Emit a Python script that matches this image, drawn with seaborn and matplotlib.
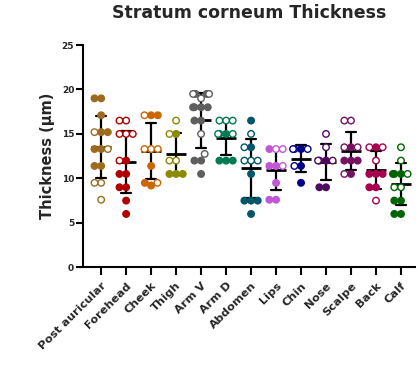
import numpy as np
import pandas as pd
import matplotlib
matplotlib.use("Agg")
import matplotlib.pyplot as plt
import seaborn as sns
import warnings
warnings.filterwarnings("ignore")

sites = ["Post auricular", "Forehead", "Cheek", "Thigh", "Arm V", "Arm D",
         "Abdomen", "Lips", "Chin", "Nose", "Scalpe", "Back", "Calf"]

colors = ["#9C6B1F", "#B00000", "#CC6600", "#8B8B00", "#5E5E5E", "#007A50",
          "#00566B", "#C157D6", "#00008B", "#500A60", "#76125F", "#A8004E", "#006400"]

pa_filled = [19.0, 19.0, 17.1, 15.2, 15.2, 13.3, 13.3, 11.4, 11.4]
pa_open = [15.2, 13.3, 9.5, 9.5, 7.6]
fh_filled = [12.0, 10.5, 10.5, 9.0, 9.0, 7.5, 6.0]
fh_open = [16.5, 16.5, 15.0, 15.0, 15.0, 12.0]
ch_filled = [17.1, 17.1, 11.4, 9.5, 9.2]
ch_open = [17.1, 13.3, 13.3, 13.3, 9.5]
th_filled = [15.0, 10.5, 10.5, 10.5]
th_open = [16.5, 15.0, 12.0, 12.0]
av_filled = [19.5, 19.5, 18.0, 18.0, 18.0, 18.0, 16.5, 16.5, 12.0, 12.0, 10.5]
av_open = [19.5, 19.5, 19.0, 15.0, 12.75]
ad_filled = [15.0, 15.0, 12.0, 12.0, 12.0]
ad_open = [16.5, 16.5, 16.5, 15.0, 15.0]
ab_filled = [16.5, 13.5, 10.5, 7.5, 7.5, 7.5, 6.0]
ab_open = [15.0, 13.5, 12.0, 12.0, 12.0]
li_filled = [13.3, 11.4, 11.4, 9.5, 7.6, 7.6]
li_open = [13.3, 13.3, 11.4]
cn_filled = [13.3, 11.4, 9.5]
cn_open = [13.3, 13.3, 13.3, 11.4]
no_filled = [12.0, 12.0, 9.0, 9.0]
no_open = [15.0, 13.5, 12.0, 12.0]
sc_filled = [13.5, 12.0, 12.0, 12.0, 10.5]
sc_open = [16.5, 16.5, 13.5, 13.5, 10.5]
bk_filled = [13.5, 10.5, 10.5, 10.5, 9.0, 9.0]
bk_open = [13.5, 13.5, 12.0, 7.5]
cf_filled = [10.5, 10.5, 10.5, 7.5, 7.5, 6.0, 6.0]
cf_open = [13.5, 12.0, 10.5, 9.0, 9.0]

filled_sets = [pa_filled, fh_filled, ch_filled, th_filled, av_filled, ad_filled,
               ab_filled, li_filled, cn_filled, no_filled, sc_filled, bk_filled, cf_filled]
open_sets = [pa_open, fh_open, ch_open, th_open, av_open, ad_open,
             ab_open, li_open, cn_open, no_open, sc_open, bk_open, cf_open]

rows = []
for s, f, o in zip(sites, filled_sets, open_sets):
    for v in f:
        rows.append((s, v, True))
    for v in o:
        rows.append((s, v, False))
df = pd.DataFrame(rows, columns=["site", "value", "filled"])
df["site"] = pd.Categorical(df["site"], categories=sites)

sns.set_style("white")
plt.rcParams["font.family"] = ["DejaVu Sans"]
plt.rcParams["font.weight"] = "bold"

fig = plt.figure(figsize=(4.2, 3.68), dpi=100)
ax = fig.add_axes([0.198, 0.2736, 0.790, 0.6041])

palette = dict(zip(sites, colors))
sns.swarmplot(data=df, x="site", y="value", hue="site", order=sites,
              hue_order=sites, palette=palette, size=4.7,
              legend=False, ax=ax)
swarm_colls = [c for c in ax.collections if len(c.get_offsets())]

for coll in swarm_colls:
    off = coll.get_offsets()
    idx = int(round(float(np.mean(off[:, 0]))))
    s = sites[idx]
    c = colors[idx]
    flags = df.loc[df["site"] == s, "filled"].tolist()
    if len(flags) != len(off):
        continue
    fc = [c if fl else "white" for fl in flags]
    coll.set_facecolor(fc)
    coll.set_edgecolor(c)
    coll.set_linewidth(1.0)
    coll.set_zorder(6)

sns.pointplot(data=df, x="site", y="value", order=sites, errorbar="sd",
              color="black", marker="_", markersize=14, markeredgewidth=2.0,
              linestyle="none", capsize=0.4, err_kws={"linewidth": 1.6},
              ax=ax, zorder=5)

ax.set_xlim(-0.72, 12.56)
ax.set_ylim(0, 25)
ax.set_yticks([0, 5, 10, 15, 20, 25])
ax.set_yticklabels(["0", "5", "10", "15", "20", "25"], fontsize=6.5, fontweight="bold")
ax.set_xticks(range(len(sites)))
ax.set_xticklabels(sites, rotation=45, ha="right", rotation_mode="anchor",
                   fontsize=8.2, fontweight="bold")
ax.tick_params(axis="y", length=5, width=1.5, pad=1.5, left=True, color="black")
ax.tick_params(axis="x", length=5.5, width=1.5, pad=4, bottom=True, color="black")
for side in ["top", "right"]:
    ax.spines[side].set_visible(False)
for side in ["left", "bottom"]:
    ax.spines[side].set_linewidth(1.5)
    ax.spines[side].set_color("black")
ax.set_xlabel("")
ax.set_ylabel("Thickness (µm)", fontsize=10.5, fontweight="bold", labelpad=5)

fig.text(0.593, 0.966, "Stratum corneum Thickness", ha="center", va="center",
         fontsize=12.5, fontweight="bold")

# let seaborn lay out the swarms, then pack them a bit tighter (Prism-like)
fig.canvas.draw()
for coll in swarm_colls:
    off = np.asarray(coll.get_offsets()).copy()
    center = np.round(off[:, 0].mean())
    off[:, 0] = center + (off[:, 0] - center) * 0.8
    try:
        del coll.draw
    except AttributeError:
        pass
    coll.set_offsets(off)

fig.savefig("out.png", dpi=100)
